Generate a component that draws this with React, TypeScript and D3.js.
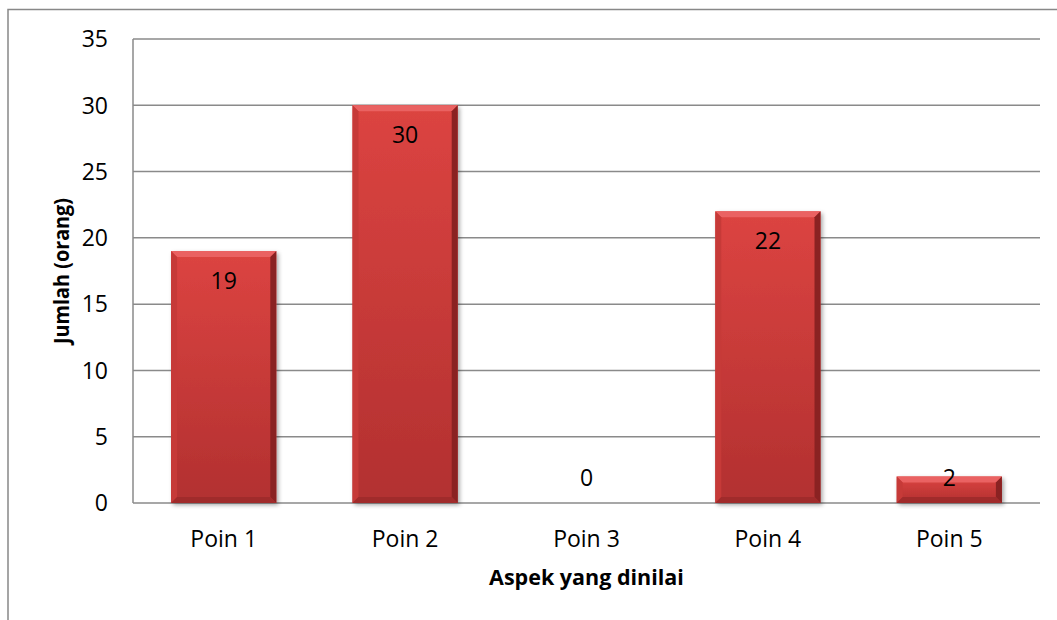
import { useEffect, useRef } from "react"
import * as d3 from "d3"

const categories = ["Poin 1", "Poin 2", "Poin 3", "Poin 4", "Poin 5"]
const values = [19, 30, 0, 22, 2]
const yTicks = [0, 5, 10, 15, 20, 25, 30, 35]

const FONT = "'Open Sans', 'Noto Sans', sans-serif"

export default function App() {
  const svgRef = useRef<SVGSVGElement>(null)

  useEffect(() => {
    if (!svgRef.current) return
    const svg = d3.select(svgRef.current)
    svg.selectAll("*").remove()

    const width = 1057
    const height = 620
    const plot = { left: 133, right: 1040, top: 39, bottom: 503 }

    const x = d3
      .scaleBand<string>()
      .domain(categories)
      .range([plot.left, plot.right])
      .paddingInner(0.42)
      .paddingOuter(0.21)

    const y = d3.scaleLinear().domain([0, 35]).range([plot.bottom, plot.top])

    svg.attr("width", width).attr("height", height).attr("viewBox", [0, 0, width, height])

    const defs = svg.append("defs")
    const grad = defs
      .append("linearGradient")
      .attr("id", "barGrad")
      .attr("x1", 0)
      .attr("y1", 0)
      .attr("x2", 0)
      .attr("y2", 1)
    grad.append("stop").attr("offset", "0%").attr("stop-color", "#dc4441")
    grad.append("stop").attr("offset", "100%").attr("stop-color", "#b23030")

    const shadow = defs.append("filter").attr("id", "shadow").attr("x", "-10%").attr("y", "-10%").attr("width", "130%").attr("height", "130%")
    shadow
      .append("feDropShadow")
      .attr("dx", 2)
      .attr("dy", 2)
      .attr("stdDeviation", 2)
      .attr("flood-color", "#000")
      .attr("flood-opacity", 0.35)

    // outer frame
    svg
      .append("rect")
      .attr("x", 8)
      .attr("y", 9.5)
      .attr("width", width + 20)
      .attr("height", height + 20)
      .attr("fill", "none")
      .attr("stroke", "#888")
      .attr("stroke-width", 1.5)

    // gridlines
    svg
      .append("g")
      .selectAll("line")
      .data(yTicks)
      .join("line")
      .attr("x1", plot.left)
      .attr("x2", plot.right)
      .attr("y1", (d) => y(d))
      .attr("y2", (d) => y(d))
      .attr("stroke", "#8a8a8a")
      .attr("stroke-width", 1.5)

    // y axis line
    svg
      .append("line")
      .attr("x1", plot.left)
      .attr("x2", plot.left)
      .attr("y1", plot.top)
      .attr("y2", plot.bottom)
      .attr("stroke", "#8a8a8a")
      .attr("stroke-width", 1.5)

    // bars
    const bars = svg
      .append("g")
      .selectAll("g")
      .data(values.map((v, i) => ({ v, c: categories[i] })).filter((d) => d.v > 0))
      .join("g")

    bars.each(function (d) {
      const g = d3.select(this)
      const x0 = x(d.c)!
      const w = x.bandwidth()
      const y0 = y(d.v)
      const h = y(0) - y0
      const b = Math.min(6, h / 3)
      g.append("rect")
        .attr("x", x0)
        .attr("y", y0)
        .attr("width", w)
        .attr("height", h)
        .attr("fill", "url(#barGrad)")
        .attr("filter", "url(#shadow)")
      // bevels
      g.append("polygon")
        .attr("points", [[x0, y0], [x0 + w, y0], [x0 + w - b, y0 + b], [x0 + b, y0 + b]].join(" "))
        .attr("fill", "#ea6262")
      g.append("polygon")
        .attr("points", [[x0, y0], [x0 + b, y0 + b], [x0 + b, y0 + h - b], [x0, y0 + h]].join(" "))
        .attr("fill", "#c63a38")
      g.append("polygon")
        .attr("points", [[x0 + w, y0], [x0 + w, y0 + h], [x0 + w - b, y0 + h - b], [x0 + w - b, y0 + b]].join(" "))
        .attr("fill", "#8a2222")
      g.append("polygon")
        .attr("points", [[x0, y0 + h], [x0 + w, y0 + h], [x0 + w - b, y0 + h - b], [x0 + b, y0 + h - b]].join(" "))
        .attr("fill", "#a02b2b")
    })

    // value labels
    svg
      .append("g")
      .selectAll("text")
      .data(values.map((v, i) => ({ v, c: categories[i] })))
      .join("text")
      .attr("x", (d) => x(d.c)! + x.bandwidth() / 2)
      .attr("y", (d) => Math.min(y(d.v) + 38, y(0) - 17))
      .attr("text-anchor", "middle")
      .attr("font-family", FONT)
      .attr("font-size", 23)
      .attr("fill", "#000")
      .text((d) => d.v)

    // y tick labels
    svg
      .append("g")
      .selectAll("text")
      .data(yTicks)
      .join("text")
      .attr("x", 108)
      .attr("y", (d) => y(d))
      .attr("dy", "0.36em")
      .attr("text-anchor", "end")
      .attr("font-family", FONT)
      .attr("font-size", 23)
      .text((d) => d)

    // x tick labels
    svg
      .append("g")
      .selectAll("text")
      .data(categories)
      .join("text")
      .attr("x", (d) => x(d)! + x.bandwidth() / 2)
      .attr("y", 547)
      .attr("text-anchor", "middle")
      .attr("font-family", FONT)
      .attr("font-size", 23)
      .text((d) => d)

    // axis titles
    svg
      .append("text")
      .attr("x", (plot.left + plot.right) / 2)
      .attr("y", 585)
      .attr("text-anchor", "middle")
      .attr("font-family", FONT)
      .attr("font-weight", "bold")
      .attr("font-size", 21.5)
      .text("Aspek yang dinilai")

    svg
      .append("text")
      .attr("transform", `translate(69,${(plot.top + plot.bottom) / 2}) rotate(-90)`)
      .attr("text-anchor", "middle")
      .attr("font-family", FONT)
      .attr("font-weight", "bold")
      .attr("font-size", 22)
      .attr("textLength", 146)
      .attr("lengthAdjust", "spacingAndGlyphs")
      .text("Jumlah (orang)")
  }, [])

  return (
    <svg
      ref={svgRef}
      style={{ position: "absolute", left: 0, top: 0, display: "block", background: "#fff" }}
    />
  )
}
